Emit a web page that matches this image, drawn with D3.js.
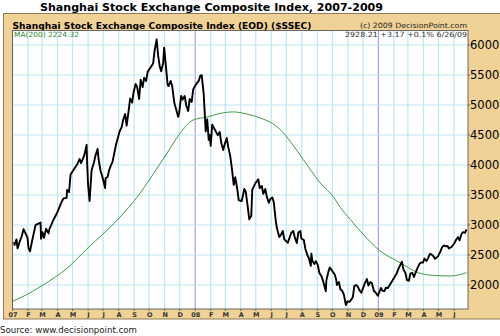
<!DOCTYPE html>
<html><head><meta charset="utf-8">
<script src="https://cdn.jsdelivr.net/npm/d3@7"></script>
<style>body{margin:0;background:#fff}svg{display:block}</style>
</head><body>
<script>
const priceDates = [
"2007-01-04","2007-01-05","2007-01-11","2007-01-12","2007-01-19","2007-01-23","2007-01-26","2007-01-31",
"2007-02-02","2007-02-05","2007-02-09","2007-02-16","2007-02-26","2007-02-27","2007-03-02","2007-03-05",
"2007-03-09","2007-03-16","2007-03-23","2007-03-30","2007-04-06","2007-04-13","2007-04-19","2007-04-20",
"2007-04-27","2007-05-11","2007-05-18","2007-05-25","2007-05-29","2007-05-30","2007-06-01","2007-06-04",
"2007-06-08","2007-06-15","2007-06-20","2007-06-22","2007-06-29","2007-07-05","2007-07-06","2007-07-13",
"2007-07-20","2007-07-27","2007-08-03","2007-08-10","2007-08-17","2007-08-24","2007-08-31","2007-09-07",
"2007-09-11","2007-09-14","2007-09-21","2007-09-28","2007-10-09","2007-10-12","2007-10-16","2007-10-19",
"2007-10-25","2007-10-31","2007-11-02","2007-11-07","2007-11-09","2007-11-16","2007-11-22","2007-11-28",
"2007-11-30","2007-12-07","2007-12-14","2007-12-18","2007-12-21","2007-12-28",
"2008-01-04","2008-01-11","2008-01-14","2008-01-18","2008-01-22","2008-01-25","2008-01-28","2008-02-01",
"2008-02-04","2008-02-15","2008-02-22","2008-02-29","2008-03-07","2008-03-14","2008-03-18","2008-03-21",
"2008-03-28","2008-04-03","2008-04-11","2008-04-18","2008-04-24","2008-04-30","2008-05-06","2008-05-09",
"2008-05-16","2008-05-23","2008-05-30","2008-06-06","2008-06-12","2008-06-20","2008-06-27","2008-07-04",
"2008-07-11","2008-07-18","2008-07-25","2008-07-31","2008-08-08","2008-08-15","2008-08-19","2008-08-20",
"2008-08-22","2008-08-29","2008-09-05","2008-09-12","2008-09-18","2008-09-19","2008-09-26","2008-10-09",
"2008-10-10","2008-10-17","2008-10-24","2008-10-28","2008-10-31","2008-11-07","2008-11-14","2008-11-21",
"2008-11-28","2008-12-05","2008-12-09","2008-12-12","2008-12-19","2008-12-26","2008-12-31",
"2009-01-09","2009-01-16","2009-01-23","2009-02-06","2009-02-13","2009-02-17","2009-02-20","2009-02-27",
"2009-03-06","2009-03-13","2009-03-20","2009-03-27","2009-03-31","2009-04-03","2009-04-10","2009-04-17",
"2009-04-24","2009-04-30","2009-05-08","2009-05-15","2009-05-22","2009-05-27","2009-06-05","2009-06-12",
"2009-06-19","2009-06-26",
// mid-week readings
"2007-01-09","2007-01-16","2007-03-14","2007-03-20","2007-04-10","2007-04-24","2007-05-15","2007-05-22",
"2007-06-13","2007-06-26","2007-07-10","2007-07-17","2007-08-07","2007-08-14","2007-08-21","2007-08-28",
"2007-09-04","2007-09-18","2007-09-25","2007-10-22","2007-10-29","2007-11-13","2007-11-20","2007-12-04",
"2007-12-11","2007-12-25",
"2008-01-08","2008-01-30","2008-02-19","2008-02-26","2008-03-04","2008-03-11","2008-03-25","2008-04-08",
"2008-04-15","2008-04-22","2008-05-13","2008-05-20","2008-05-27","2008-06-03","2008-06-10","2008-06-17",
"2008-06-24","2008-07-08","2008-07-15","2008-07-22","2008-07-29","2008-08-05","2008-08-12","2008-08-26",
"2008-09-02","2008-09-09","2008-09-24","2008-10-06","2008-10-14","2008-10-21","2008-11-04","2008-11-11",
"2008-11-18","2008-11-25","2008-12-16","2008-12-23",
"2009-01-06","2009-01-13","2009-01-20","2009-02-10","2009-02-24","2009-03-03","2009-03-10","2009-03-17",
"2009-03-24","2009-04-07","2009-04-14","2009-04-21","2009-05-05","2009-05-12","2009-05-19","2009-06-02",
"2009-06-09","2009-06-16","2009-06-23"];
const priceValues = [
2715,2668,2610,2630,2800,2930,2880,2786,
2612,2560,2730,2998,3040,2771,2880,2785,
2937,2940,3075,3183,3323,3444,3450,3584,
3841,4021,4030,4181,4335,4053,3670,3400,
3913,4132,4269,4091,3820,3615,3781,3914,
4058,4345,4560,4749,4656,5107,5218,5300,
5100,5421,5454,5552,5692,5913,6092,5818,
5562,5954,5777,5330,5316,5316,4984,4803,
4871,5091,4996,4900,5101,5262,
5361,5484,5497,5181,4559,4761,4419,4320,
4672,4497,4370,4348,4300,3962,3668,3796,
3411,3400,3550,3094,3584,3693,3761,3613,
3520,3473,3433,3379,2957,2831,2760,2704,
2870,2790,2874,2775,2605,2450,2319,2523,
2405,2397,2202,2079,1895,2075,2293,2074,
2000,1930,1839,1664,1728,1747,1987,1970,
1871,2030,2100,1991,2030,1880,1820,
1904,1954,1990,2182,2320,2389,2261,2082,
2193,2133,2281,2374,2373,2440,2444,2511,
2436,2477,2626,2646,2610,2633,2750,2744,
2880,2928,
2760,2740,2860,3010,3400,3550,4100,4110,
4050,3900,3800,4000,4630,4850,4900,5040,
5350,5300,5400,5650,5700,5400,5050,5150,
5150,5050,
5400,4500,4550,4250,4450,4150,3600,3600,
3300,3150,3650,3600,3370,3460,3070,2800,
2900,2800,2900,2700,2900,2750,2500,2350,
2330,2150,2250,2170,2050,1900,1720,1800,
2000,1900,2050,1900,
1950,1900,1950,2270,2200,2070,2200,2220,
2350,2400,2520,2480,2560,2660,2650,2700,
2800,2850,2870];

const maDates = ["2007-01-01","2007-01-20","2007-03-01","2007-04-20","2007-06-01","2007-07-29","2007-09-13",
"2007-10-10","2007-11-06","2007-12-01","2007-12-28","2008-01-25","2008-02-20","2008-03-17","2008-04-20",
"2008-05-10","2008-06-19","2008-07-10","2008-08-04","2008-09-07","2008-10-03","2008-10-17","2008-11-06",
"2008-12-01","2009-01-01","2009-02-14","2009-03-20","2009-04-21","2009-05-25","2009-06-26"];
const maValues = [1730,1800,1990,2280,2620,3080,3530,
3860,4200,4520,4750,4800,4860,4885,4835,
4785,4590,4380,4090,3700,3470,3290,3090,
2850,2590,2370,2210,2160,2150,2205];

const yTicks = [2000,2500,3000,3500,4000,4500,5000,5500,6000];
const monthLabels = ["07","F","M","A","M","J","J","A","S","O","N","D",
"08","F","M","A","M","J","J","A","S","O","N","D",
"09","F","M","A","M","J"];

const W = 500, H = 336;
const svg = d3.select("body").append("svg").attr("width", W).attr("height", H);
const parse = d3.timeParse("%Y-%m-%d");
const L = 12, R = 468, T = 31, B = 309;

const x = d3.scaleTime().domain([new Date(2006, 11, 31), new Date(2009, 5, 29)]).range([L, R]);
const y = d3.scaleLinear().domain([1600, 6233]).range([B, T]);

// title
svg.append("text").attr("x", 40).attr("y", 10.5)
  .attr("font-family", "DejaVu Sans").attr("font-weight", "bold").attr("font-size", 11)
  .attr("textLength", 343).attr("lengthAdjust", "spacingAndGlyphs")
  .text("Shanghai Stock Exchange Composite Index, 2007-2009");

// tan panel
svg.append("rect").attr("x", 3.5).attr("y", 13.5).attr("width", 500).attr("height", 305.5)
  .attr("fill", "#f1d296").attr("stroke", "#8c7a5a").attr("stroke-width", 1);

svg.append("text").attr("x", 12.5).attr("y", 28.6)
  .attr("font-family", "DejaVu Sans").attr("font-weight", "bold").attr("font-size", 9.2)
  .attr("textLength", 299).attr("lengthAdjust", "spacingAndGlyphs")
  .text("Shanghai Stock Exchange Composite Index (EOD) ($SSEC)");
svg.append("text").attr("x", 467).attr("y", 27.8).attr("text-anchor", "end")
  .attr("font-family", "DejaVu Sans").attr("font-size", 7.3).attr("fill", "#222")
  .attr("textLength", 107).attr("lengthAdjust", "spacingAndGlyphs")
  .text("(c) 2009 DecisionPoint.com");

// plot bg
svg.append("rect").attr("x", L).attr("y", T).attr("width", R - L).attr("height", B - T).attr("fill", "#fff");

const months = d3.timeMonth.range(new Date(2007, 0, 1), new Date(2009, 6, 1));
// vertical grid
svg.append("g").selectAll("line").data(months).join("line")
  .attr("x1", d => x(d)).attr("x2", d => x(d)).attr("y1", T).attr("y2", B)
  .attr("stroke", d => d.getMonth() === 0 ? "#a79ef0" : "#bfe6f6")
  .attr("stroke-width", 1.2);
// horizontal grid
svg.append("g").selectAll("line").data(yTicks).join("line")
  .attr("x1", L).attr("x2", R).attr("y1", d => y(d)).attr("y2", d => y(d))
  .attr("stroke", "#bfe6f6").attr("stroke-width", 1.2);

// info texts
svg.append("text").attr("x", 14).attr("y", 36.6)
  .attr("font-family", "DejaVu Sans").attr("font-size", 7.2).attr("fill", "#2f8a2f")
  .attr("textLength", 65).attr("lengthAdjust", "spacingAndGlyphs")
  .text("MA(200) 2224.32");
svg.append("text").attr("x", 467).attr("y", 36.6).attr("text-anchor", "end")
  .attr("font-family", "DejaVu Sans").attr("font-size", 7.2).attr("fill", "#333")
  .attr("textLength", 122).attr("lengthAdjust", "spacingAndGlyphs")
  .text("2928.21  +3.17  +0.1%  6/26/09");

// MA line
const maData = maDates.map((d, i) => ({ d: parse(d), v: maValues[i] }));
svg.append("path").datum(maData)
  .attr("d", d3.line().x(p => x(p.d)).y(p => y(p.v)).curve(d3.curveMonotoneX))
  .attr("fill", "none").attr("stroke", "#3f9a44").attr("stroke-width", 1);

// price line
const pData = priceDates.map((d, i) => ({ d: parse(d), v: priceValues[i] }))
  .sort((a, b) => a.d - b.d);
svg.append("path").datum(pData)
  .attr("d", d3.line().x(p => x(p.d)).y(p => y(p.v)))
  .attr("fill", "none").attr("stroke", "#000").attr("stroke-width", 1.9).attr("stroke-linejoin", "round");

// plot frame
svg.append("rect").attr("x", L + 0.5).attr("y", T - 0.5).attr("width", R - L - 0.5).attr("height", B - T + 0.5)
  .attr("fill", "none").attr("stroke", "#666").attr("stroke-width", 1);

// y axis labels
svg.append("g").selectAll("text").data(yTicks).join("text")
  .attr("x", 470).attr("y", d => y(d) + 4)
  .attr("font-family", "DejaVu Sans").attr("font-size", 11.5).attr("fill", "#000")
  .text(d => d);
svg.append("g").selectAll("line").data(yTicks).join("line")
  .attr("x1", R).attr("x2", R + 2).attr("y1", d => y(d)).attr("y2", d => y(d)).attr("stroke", "#666");

// x labels
svg.append("g").selectAll("text").data(months).join("text")
  .attr("x", d => x(d) + 0.5).attr("y", 317).attr("text-anchor", "middle")
  .attr("font-family", "DejaVu Sans").attr("font-weight", "bold").attr("font-size", 6.5).attr("fill", "#333")
  .text((d, i) => monthLabels[i]);
svg.append("g").selectAll("line").data(months).join("line")
  .attr("x1", d => x(d)).attr("x2", d => x(d)).attr("y1", B).attr("y2", B + 2).attr("stroke", "#666");

// source
svg.append("text").attr("x", 0).attr("y", 333)
  .attr("font-family", "DejaVu Sans").attr("font-size", 9).attr("fill", "#222")
  .attr("textLength", 137).attr("lengthAdjust", "spacingAndGlyphs")
  .text("Source: www.decisionpoint.com");
</script>
</body></html>
